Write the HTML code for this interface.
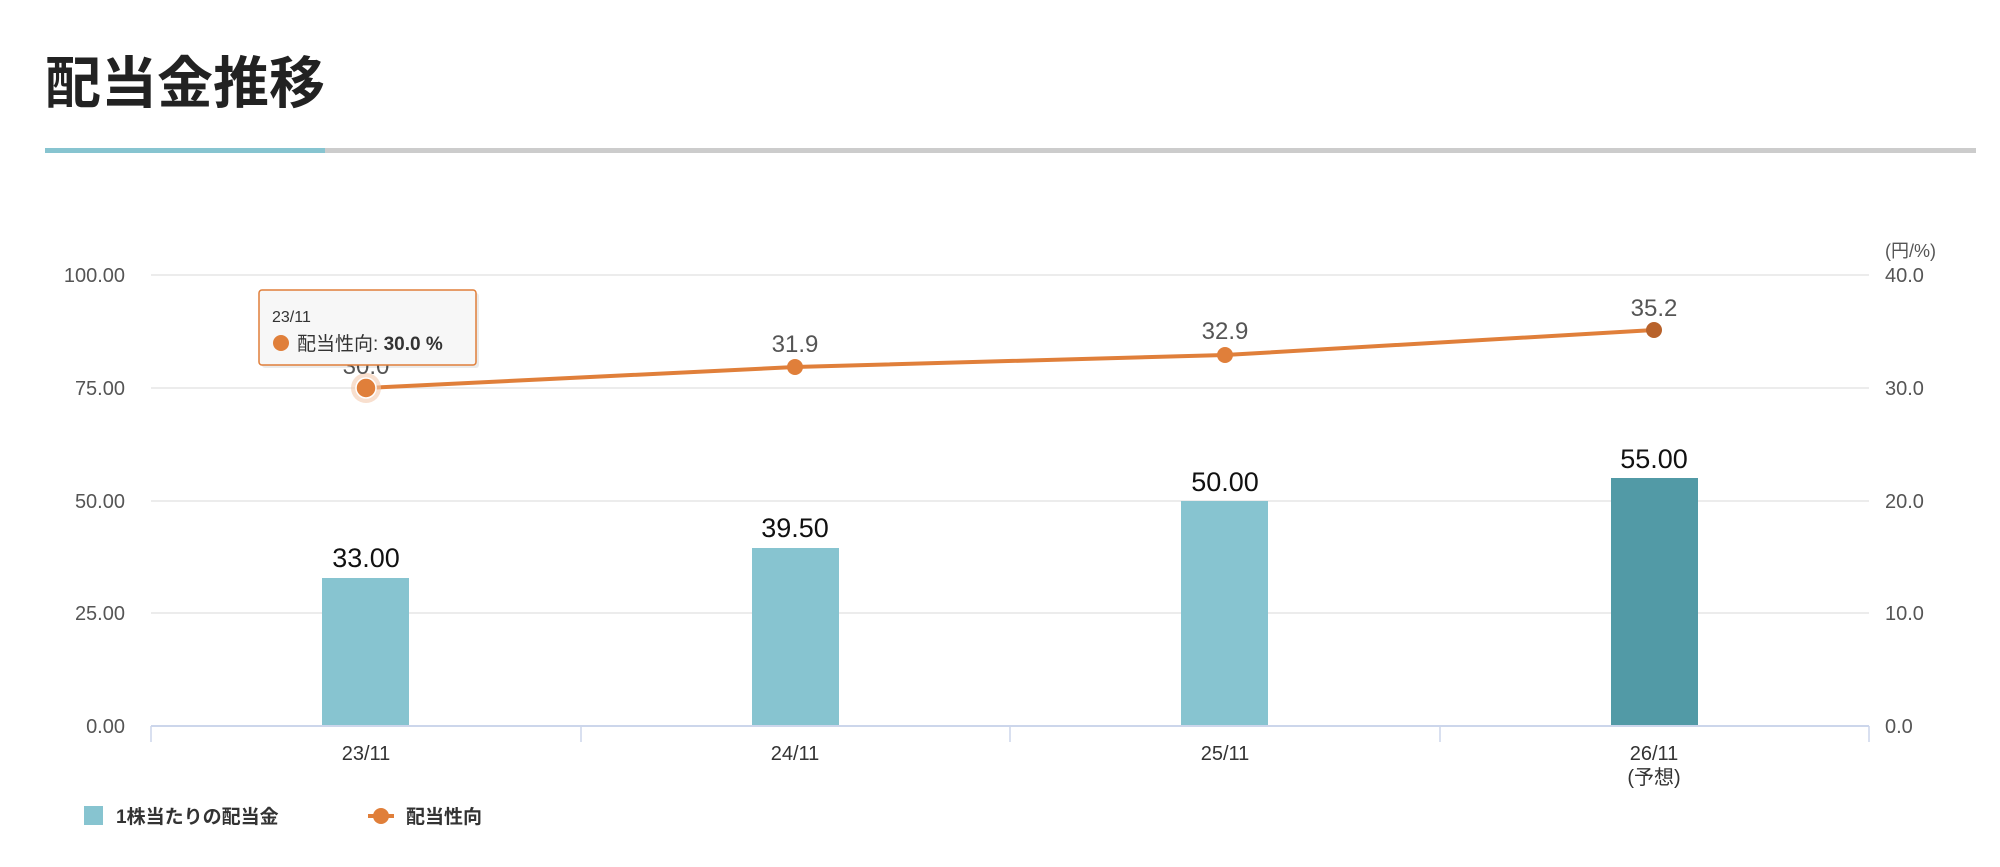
<!DOCTYPE html>
<html><head><meta charset="utf-8">
<style>
html,body{margin:0;padding:0;background:#fff;}
svg{display:block;}
text{font-family:"Liberation Sans","Noto Sans CJK JP",sans-serif;}
</style></head>
<body>
<svg width="2000" height="867" viewBox="0 0 2000 867" xmlns="http://www.w3.org/2000/svg">
<text x="45" y="103" font-size="56" font-weight="bold" fill="#222" font-family="Noto Sans CJK JP, sans-serif">配当金推移</text>
<rect x="45" y="148" width="1931" height="5" fill="#cccccc"/>
<rect x="45" y="148" width="280" height="5" fill="#87c4d0"/>

<g stroke="#e6e6e6" stroke-width="1.5">
<line x1="151" y1="275" x2="1869" y2="275"/>
<line x1="151" y1="388" x2="1869" y2="388"/>
<line x1="151" y1="501" x2="1869" y2="501"/>
<line x1="151" y1="613" x2="1869" y2="613"/>
</g>
<g font-size="20" fill="#555" text-anchor="end">
<text x="125" y="282">100.00</text>
<text x="125" y="395">75.00</text>
<text x="125" y="508">50.00</text>
<text x="125" y="620">25.00</text>
<text x="125" y="733">0.00</text>
</g>
<g font-size="20" fill="#555">
<text x="1885" y="257" font-size="18">(円/%)</text>
<text x="1885" y="282">40.0</text>
<text x="1885" y="395">30.0</text>
<text x="1885" y="508">20.0</text>
<text x="1885" y="620">10.0</text>
<text x="1885" y="733">0.0</text>
</g>

<rect x="322" y="578" width="87" height="148" fill="#87c4d0"/>
<rect x="752" y="548" width="87" height="178" fill="#87c4d0"/>
<rect x="1181" y="501" width="87" height="225" fill="#87c4d0"/>
<rect x="1611" y="478" width="87" height="248" fill="#529aa6"/>

<line x1="151" y1="726" x2="1869" y2="726" stroke="#ccd6eb" stroke-width="2"/>
<g stroke="#ccd6eb" stroke-width="1.5">
<line x1="151" y1="726" x2="151" y2="742"/>
<line x1="581" y1="726" x2="581" y2="742"/>
<line x1="1010" y1="726" x2="1010" y2="742"/>
<line x1="1440" y1="726" x2="1440" y2="742"/>
<line x1="1869" y1="726" x2="1869" y2="742"/>
</g>
<g font-size="20" fill="#333" text-anchor="middle">
<text x="366" y="760">23/11</text>
<text x="795" y="760">24/11</text>
<text x="1225" y="760">25/11</text>
<text x="1654" y="760">26/11</text>
<text x="1654" y="784">(予想)</text>
</g>

<g font-size="27" fill="#111" text-anchor="middle">
<text x="366" y="567">33.00</text>
<text x="795" y="537">39.50</text>
<text x="1225" y="491">50.00</text>
<text x="1654" y="468">55.00</text>
</g>

<polyline points="366,388 795,367 1225,355 1654,330" fill="none" stroke="#e07f3a" stroke-width="4"/>
<circle cx="366" cy="388" r="15" fill="#f3c9ad" opacity="0.6"/>
<circle cx="366" cy="388" r="10" fill="#e07f3a" stroke="#fff" stroke-width="1.5"/>
<circle cx="795" cy="367" r="8" fill="#e07f3a"/>
<circle cx="1225" cy="355" r="8" fill="#e07f3a"/>
<circle cx="1654" cy="330" r="8" fill="#b8622b"/>
<g font-size="24" fill="#555" text-anchor="middle">
<text x="366" y="374">30.0</text>
<text x="795" y="352">31.9</text>
<text x="1225" y="339">32.9</text>
<text x="1654" y="316">35.2</text>
</g>

<rect x="262" y="293" width="217" height="75" fill="#000" opacity="0.08" rx="3"/>
<rect x="259" y="290" width="217" height="75" fill="#f7f7f7" stroke="#e07f3a" stroke-width="1.5" rx="3"/>
<text x="272" y="322" font-size="16" fill="#333">23/11</text>
<circle cx="281" cy="343" r="8" fill="#e07f3a"/>
<text x="297" y="350" font-size="19" fill="#333">配当性向: <tspan font-weight="bold">30.0 %</tspan></text>

<rect x="84" y="806" width="19" height="19" fill="#87c4d0"/>
<text x="116" y="823" font-size="19" font-weight="bold" fill="#333">1株当たりの配当金</text>
<line x1="368" y1="816" x2="394" y2="816" stroke="#e07f3a" stroke-width="4"/>
<circle cx="381" cy="816" r="8" fill="#e07f3a"/>
<text x="406" y="823" font-size="19" font-weight="bold" fill="#333">配当性向</text>
</svg>
</body></html>
